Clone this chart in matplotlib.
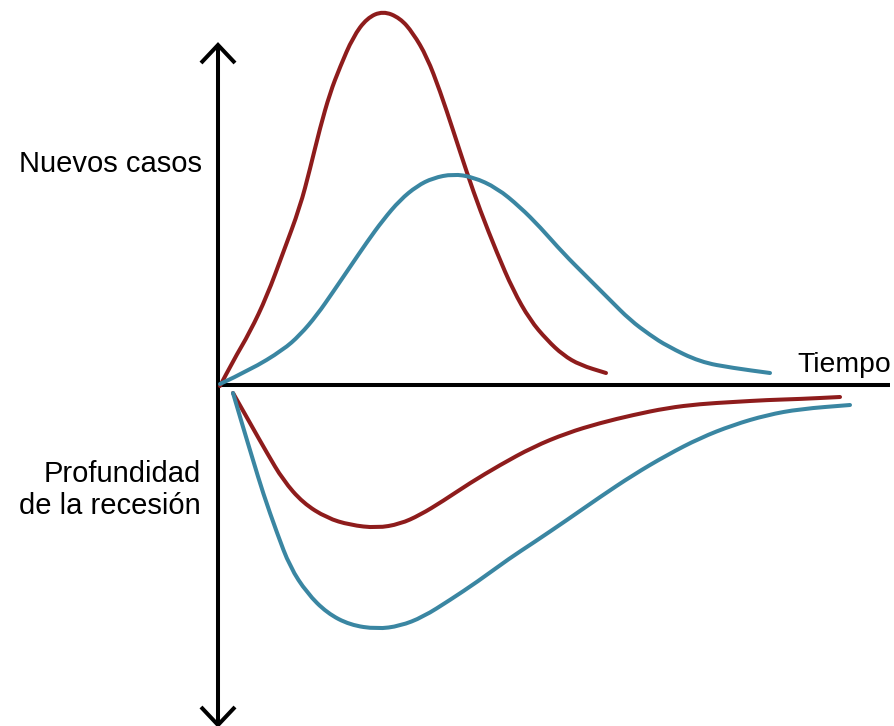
import matplotlib
matplotlib.use("Agg")
import matplotlib.pyplot as plt
from matplotlib.path import Path
from matplotlib.patches import PathPatch

# Time since outbreak (x) and value (y), origin at the axes crossing
red_cases_t = [2, 15, 32, 49, 65, 82, 92, 102, 112, 122, 135, 149, 165, 182, 195, 209,
               222, 235, 249, 262, 279, 295, 312, 329, 345, 362, 388]
red_cases_v = [-1, 24, 53, 89, 132, 178, 216, 257, 292, 318, 348, 367, 374, 367, 352, 328,
               294, 255, 212, 175, 132, 95, 65, 45, 30, 20, 12]

blue_cases_t = [2, 32, 65, 82, 99, 115, 132, 149, 165, 182, 199, 215, 235, 255, 279, 302,
                322, 345, 369, 392, 412, 432, 449, 482, 515, 552]
blue_cases_v = [1, 15, 35, 50, 70, 93, 118, 143, 165, 185, 199, 207, 211, 208, 197, 178,
                158, 132, 108, 85, 65, 50, 39, 23, 17, 12]

red_recession_t = [15, 32, 49, 65, 85, 109, 132, 159, 182, 202, 225, 252, 282, 315, 349,
                   382, 415, 449, 482, 515, 549, 582, 622]
red_recession_v = [-8, -38, -68, -95, -118, -133, -140, -143, -139, -130, -116, -98, -80,
                   -62, -48, -38, -30, -23, -19, -17, -15, -14, -12]

blue_recession_t = [15, 25, 35, 45, 59, 72, 89, 109, 132, 159, 182, 205, 232, 259, 292, 315,
                    349, 382, 415, 449, 482, 515, 549, 582, 632]
blue_recession_v = [-8, -42, -75, -108, -148, -182, -208, -228, -240, -244, -241, -232, -215,
                    -197, -173, -158, -135, -112, -90, -70, -53, -40, -30, -24, -20]

label_cases = "Nuevos casos"
label_recession = ["Profundidad", "de la recesión"]
label_time = "Tiempo"

RED = "#8e1c1c"
BLUE = "#3a86a2"

plt.rcParams['font.family'] = ['Liberation Sans', 'DejaVu Sans']

fig = plt.figure(figsize=(8.94, 7.26), dpi=100)
ax = fig.add_axes([0, 0, 1, 1])
ax.set_xlim(-218, 676)
ax.set_ylim(-341, 385)
ax.axis('off')

axis_lw = 2.9
curve_lw = 2.9


def smooth_curve(ax, xs, ys, color):
    """Draw a smooth quadratic-Bezier path using the read points as controls."""
    pts = list(zip(xs, ys))
    verts = [pts[0]]
    codes = [Path.MOVETO]
    for i in range(1, len(pts) - 1):
        mid = ((pts[i][0] + pts[i + 1][0]) / 2, (pts[i][1] + pts[i + 1][1]) / 2)
        verts += [pts[i], mid]
        codes += [Path.CURVE3, Path.CURVE3]
    verts.append(pts[-1])
    codes.append(Path.LINETO)
    patch = PathPatch(Path(verts, codes), facecolor='none', edgecolor=color,
                      lw=curve_lw, capstyle='round', joinstyle='round', zorder=3)
    ax.add_patch(patch)


# axes
ax.plot([0, 0], [-340, 340], color='black', lw=axis_lw, solid_capstyle='butt', zorder=2)
ax.plot([0, 672], [0, 0], color='black', lw=axis_lw, solid_capstyle='butt', zorder=2)
# arrow heads
ax.plot([-17, 0, 17], [322, 340, 322], color='black', lw=axis_lw,
        solid_joinstyle='miter', solid_capstyle='butt', zorder=2)
ax.plot([-17, 0, 17], [-322, -340, -322], color='black', lw=axis_lw,
        solid_joinstyle='miter', solid_capstyle='butt', zorder=2)

# curves
smooth_curve(ax, red_cases_t, red_cases_v, RED)
smooth_curve(ax, blue_cases_t, blue_cases_v, BLUE)
smooth_curve(ax, red_recession_t, red_recession_v, RED)
smooth_curve(ax, blue_recession_t, blue_recession_v, BLUE)

fs = 21
ax.text(-16, 213, label_cases, ha='right', va='baseline', fontsize=fs, color='black')
ax.text(-17, -97, label_recession[0], ha='right', va='baseline', fontsize=fs, color='black')
ax.text(-17, -129, label_recession[1], ha='right', va='baseline', fontsize=fs, color='black')
ax.text(579, 13, label_time, ha='left', va='baseline', fontsize=20.4, color='black')

fig.savefig("out.png", dpi=100)
